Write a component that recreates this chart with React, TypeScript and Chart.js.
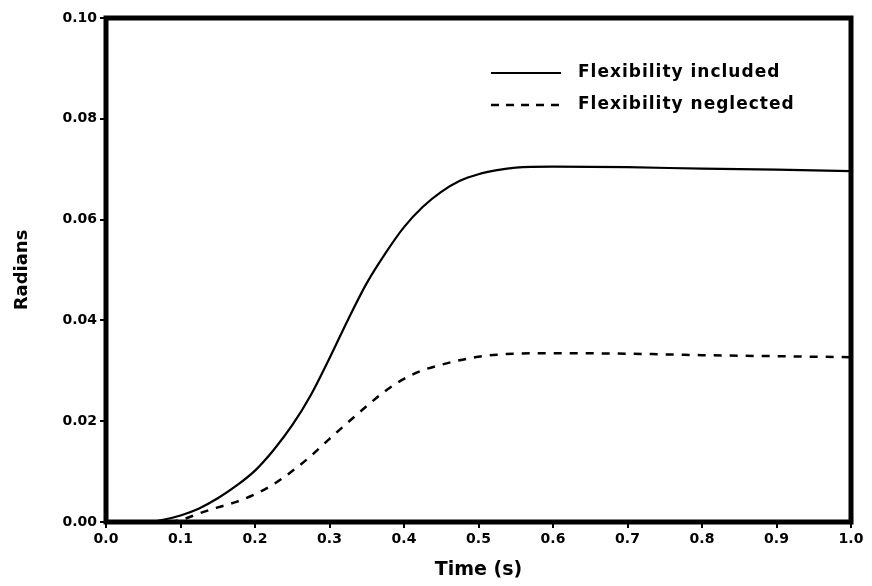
import React, { useEffect, useRef } from "react";
import { Chart, registerables } from "chart.js";

Chart.register(...registerables);

const timeValues = [0, 0.05, 0.075, 0.1, 0.125, 0.15, 0.175, 0.2, 0.225, 0.25, 0.275, 0.3, 0.325, 0.35, 0.375, 0.4, 0.425, 0.45, 0.475, 0.5, 0.525, 0.55, 0.6, 0.7, 0.8, 0.9, 1.0];
const flexIncluded = [0, 0, 0.0004, 0.0013, 0.0027, 0.0047, 0.0072, 0.0102, 0.0143, 0.0192, 0.0252, 0.0325, 0.0402, 0.0474, 0.0533, 0.0585, 0.0625, 0.0655, 0.0677, 0.0690, 0.0698, 0.0703, 0.0705, 0.0704, 0.0701, 0.0699, 0.0696];
const flexNeglected = [0, 0, 0, 0.0004, 0.0017, 0.0029, 0.0040, 0.0055, 0.0075, 0.0101, 0.0131, 0.0165, 0.0198, 0.0230, 0.0260, 0.0284, 0.0301, 0.0312, 0.0321, 0.0328, 0.0332, 0.0334, 0.0335, 0.0334, 0.0331, 0.0329, 0.0327];
const seriesNames = ["Flexibility included", "Flexibility neglected"];
const xTickLabels = ["0.0", "0.1", "0.2", "0.3", "0.4", "0.5", "0.6", "0.7", "0.8", "0.9", "1.0"];
const yTickLabels = ["0.00", "0.02", "0.04", "0.06", "0.08", "0.10"];
const xTitle = "Time (s)";
const yTitle = "Radians";

const FONT = "'DejaVu Sans', sans-serif";

const framePlugin = {
  id: "frame",
  afterDatasetsDraw(chart: any) {
    const { ctx, chartArea } = chart;
    ctx.save();
    ctx.strokeStyle = "#000";
    ctx.lineWidth = 5;
    ctx.strokeRect(chartArea.left, chartArea.top, chartArea.right - chartArea.left, chartArea.bottom - chartArea.top);
    // legend
    const x0 = chartArea.left + 385;
    const x1 = x0 + 70;
    const rows = [chartArea.top + 55, chartArea.top + 87];
    ctx.lineWidth = 2;
    ctx.beginPath();
    ctx.setLineDash([]);
    ctx.moveTo(x0, rows[0]);
    ctx.lineTo(x1, rows[0]);
    ctx.stroke();
    ctx.beginPath();
    ctx.lineWidth = 2.5;
    ctx.setLineDash([8, 7]);
    ctx.moveTo(x0, rows[1]);
    ctx.lineTo(x1, rows[1]);
    ctx.stroke();
    ctx.setLineDash([]);
    ctx.fillStyle = "#000";
    ctx.font = `bold 17px ${FONT}`;
    try { (ctx as any).letterSpacing = "1px"; } catch (e) {}
    ctx.textBaseline = "alphabetic";
    ctx.textAlign = "left";
    ctx.fillText(seriesNames[0], x1 + 17, rows[0] + 4);
    ctx.fillText(seriesNames[1], x1 + 17, rows[1] + 4);
    ctx.restore();
  },
};

export default function App() {
  const ref = useRef<HTMLCanvasElement | null>(null);
  useEffect(() => {
    document.body.style.margin = "0";
    const canvas = ref.current!;
    const chart = new Chart(canvas, {
      type: "line",
      data: {
        datasets: [
          {
            label: seriesNames[0],
            data: timeValues.map((t, i) => ({ x: t, y: flexIncluded[i] })),
            borderColor: "#000",
            borderWidth: 2.2,
            pointRadius: 0,
            cubicInterpolationMode: "monotone",
            fill: false,
          },
          {
            label: seriesNames[1],
            data: timeValues.map((t, i) => ({ x: t, y: flexNeglected[i] })),
            borderColor: "#000",
            borderWidth: 2.5,
            borderDash: [8, 8],
            pointRadius: 0,
            cubicInterpolationMode: "monotone",
            fill: false,
          },
        ],
      },
      options: {
        animation: false,
        responsive: false,
        maintainAspectRatio: false,
        layout: { padding: { top: 18, right: 21, left: 12, bottom: 0 } },
        plugins: { legend: { display: false }, tooltip: { enabled: false } },
        scales: {
          x: {
            type: "linear",
            min: 0,
            max: 1,
            afterBuildTicks: (scale: any) => {
              scale.ticks = xTickLabels.map((l) => ({ value: parseFloat(l) }));
            },
            afterFit: (scale: any) => {
              scale.height = 64;
            },
            ticks: {
              color: "#000",
              font: { family: FONT, size: 14, weight: "bold" },
              padding: 3,
              maxRotation: 0,
              autoSkip: false,
              callback: (_v: any, i: number) => xTickLabels[i],
            },
            grid: { display: true, drawOnChartArea: false, tickLength: 6, color: "#000", lineWidth: 2 },
            border: { display: false },
            title: {
              display: true,
              text: xTitle,
              color: "#000",
              font: { family: FONT, size: 19, weight: "bold" },
              padding: { top: 0, bottom: 5 },
            },
          },
          y: {
            type: "linear",
            min: 0,
            max: 0.1,
            afterBuildTicks: (scale: any) => {
              scale.ticks = yTickLabels.map((l) => ({ value: parseFloat(l) }));
            },
            afterFit: (scale: any) => {
              scale.width = 94;
            },
            ticks: {
              color: "#000",
              font: { family: FONT, size: 14, weight: "bold" },
              padding: 3,
              autoSkip: false,
              callback: (_v: any, i: number) => yTickLabels[i],
            },
            grid: { display: true, drawOnChartArea: false, tickLength: 6, color: "#000", lineWidth: 2 },
            border: { display: false },
            title: {
              display: true,
              text: yTitle,
              color: "#000",
              font: { family: FONT, size: 18, weight: "bold" },
              padding: { top: 0, bottom: 10 },
            },
          },
        },
      },
      plugins: [framePlugin],
    } as any);
    return () => chart.destroy();
  }, []);
  return (
    <div style={{ width: 872, height: 586, background: "#fff" }}>
      <canvas ref={ref} width={872} height={586} style={{ display: "block" }} />
    </div>
  );
}
